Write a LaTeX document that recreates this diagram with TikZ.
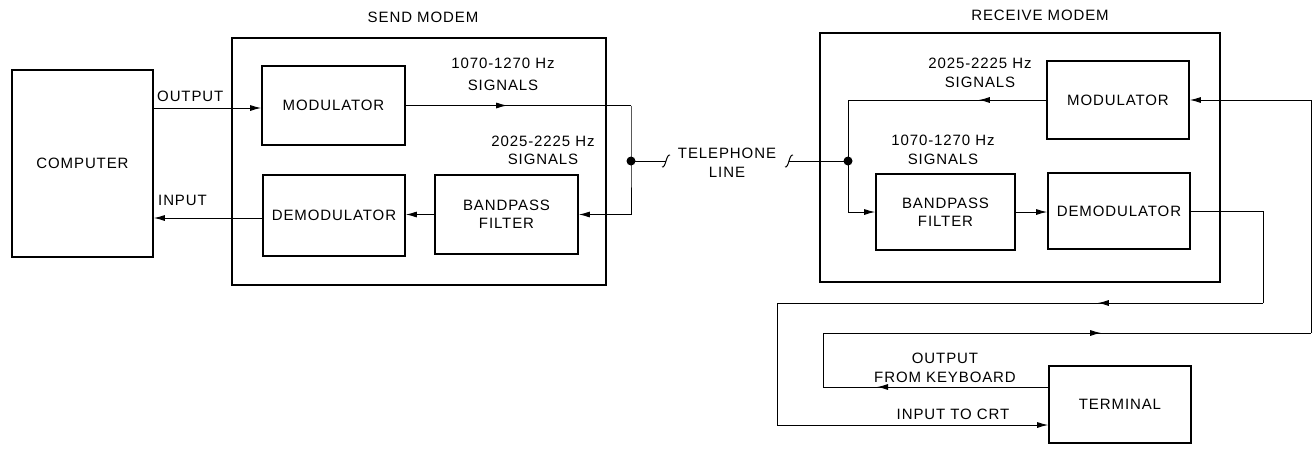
\documentclass[tikz,border=0pt]{standalone}
\usepackage{fontspec}
\setmainfont{Liberation Sans}[LetterSpace=6]
\usetikzlibrary{arrows.meta,decorations.markings}
\begin{document}
\begin{tikzpicture}[x=1pt,y=-1pt,
  >={Latex[length=11pt,width=6pt]},
  font=\fontsize{15}{19}\selectfont,
  blk/.style={draw,line width=1.7pt,align=center,inner sep=0pt},
  conn/.style={line width=0.9pt},
  lbl/.style={align=center,inner sep=0pt},
  marr/.style={postaction={decorate,decoration={markings,mark=at position #1 with {\arrow{>}}}}},
  dot/.style={circle,fill,inner sep=0pt,minimum size=9pt},
  sq/.style={line width=1pt}]
\useasboundingbox (0,0) rectangle (1314,448);
% blocks
\node[blk,minimum width=374,minimum height=247] (sendbox) at (419,161.5) {};
\node[blk,minimum width=400,minimum height=249] (recvbox) at (1020,157.5) {};
\node[blk,minimum width=141,minimum height=187] (comp) at (82.5,163.5) {COMPUTER};
\node[blk,minimum width=143,minimum height=79] (smod) at (333.5,105.5) {MODULATOR};
\node[blk,minimum width=142,minimum height=81] (sdemod) at (334,215.5) {DEMODULATOR};
\node[blk,minimum width=143,minimum height=79] (sbpf) at (506.5,214.5) {BANDPASS\\[-1pt]FILTER};
\node[blk,minimum width=142,minimum height=78] (rmod) at (1118,100) {MODULATOR};
\node[blk,minimum width=142,minimum height=76] (rdemod) at (1119,211) {DEMODULATOR};
\node[blk,minimum width=139,minimum height=76] (rbpf) at (945.5,212) {BANDPASS\\[-1pt]FILTER};
\node[blk,minimum width=142,minimum height=77] (term) at (1120,404.5) {TERMINAL};
% labels
\node[lbl] (lsend) at (423,17) {SEND MODEM};
\node[lbl] (lrecv) at (1040,15) {RECEIVE MODEM};
\node[lbl,anchor=west] (lout) at (157,96) {OUTPUT};
\node[lbl,anchor=west] (lin) at (158,200) {INPUT};
\node[lbl] (ls1) at (503,74.5) {1070-1270 Hz\\[3pt]SIGNALS};
\node[lbl] (ls2) at (543,150) {2025-2225 Hz\\[-1pt]SIGNALS};
\node[lbl] (ltel) at (727,163) {TELEPHONE\\LINE};
\node[lbl] (lr2) at (980,72.5) {2025-2225 Hz\\SIGNALS};
\node[lbl] (lr1) at (943,150) {1070-1270 Hz\\SIGNALS};
\node[lbl] (lkey) at (945,367.5) {OUTPUT\\FROM KEYBOARD};
\node[lbl] (lcrt) at (953,414) {INPUT TO CRT};
% junctions and corner points
\node[dot] (sj) at (631,161) {};
\node[dot] (rj) at (848,161) {};
\coordinate (sa) at (631,105.5);
\coordinate (sb) at (631,214.5);
\coordinate (sq1) at (666,161);
\coordinate (sq2) at (789,161);
\coordinate (ra) at (848,100);
\coordinate (rb) at (848,212);
\coordinate (rc) at (1263,211);
\coordinate (rd) at (1263,303);
\coordinate (re) at (777,303);
\coordinate (rf) at (777,425);
\coordinate (rg) at (823,387);
\coordinate (rh) at (823,333);
\coordinate (ri) at (1311,333);
\coordinate (rk) at (1311,100);
% send side connectors
\draw[conn,->] (comp.east |- 0,108) -- (smod.west |- 0,108);
\draw[conn,->] (sdemod.west |- 0,218) -- (comp.east |- 0,218);
\draw[conn,->] (sbpf.west) -- (sdemod.east |- sbpf.west);
\draw[conn,marr=0.45] (smod.east) -- (sa);
\draw[conn] (sa) -- (sj.center) -- (sb);
\draw[conn,->] (sb) -- (sbpf.east);
\draw[conn] (sj.center) -- (sq1);
\draw[sq] ([shift={(-4,6)}]sq1) .. controls ([shift={(0,7)}]sq1) and ([shift={(0,-7)}]sq1) .. ([shift={(4,-6)}]sq1);
% telephone line to receive side
\draw[conn] (sq2) -- (rj.center);
\draw[sq] ([shift={(-4,6)}]sq2) .. controls ([shift={(0,7)}]sq2) and ([shift={(0,-7)}]sq2) .. ([shift={(4,-6)}]sq2);
% receive side connectors
\draw[conn,marr=0.34] (rmod.west) -- (ra);
\draw[conn] (ra) -- (rj.center) -- (rb);
\draw[conn,->] (rb) -- (rbpf.west);
\draw[conn,->] (rbpf.east) -- (rdemod.west |- rbpf.east);
\draw[conn] (rdemod.east) -- (rc) -- (rd);
\draw[conn,marr=0.34] (rd) -- (re);
\draw[conn] (re) -- (rf);
\draw[conn,->] (rf) -- (term.west |- rf);
\draw[conn,marr=0.76] (term.west |- rg) -- (rg);
\draw[conn] (rg) -- (rh);
\draw[conn,marr=0.57] (rh) -- (ri);
\draw[conn] (ri) -- (rk);
\draw[conn,->] (rk) -- (rmod.east);
\end{tikzpicture}
\end{document}
